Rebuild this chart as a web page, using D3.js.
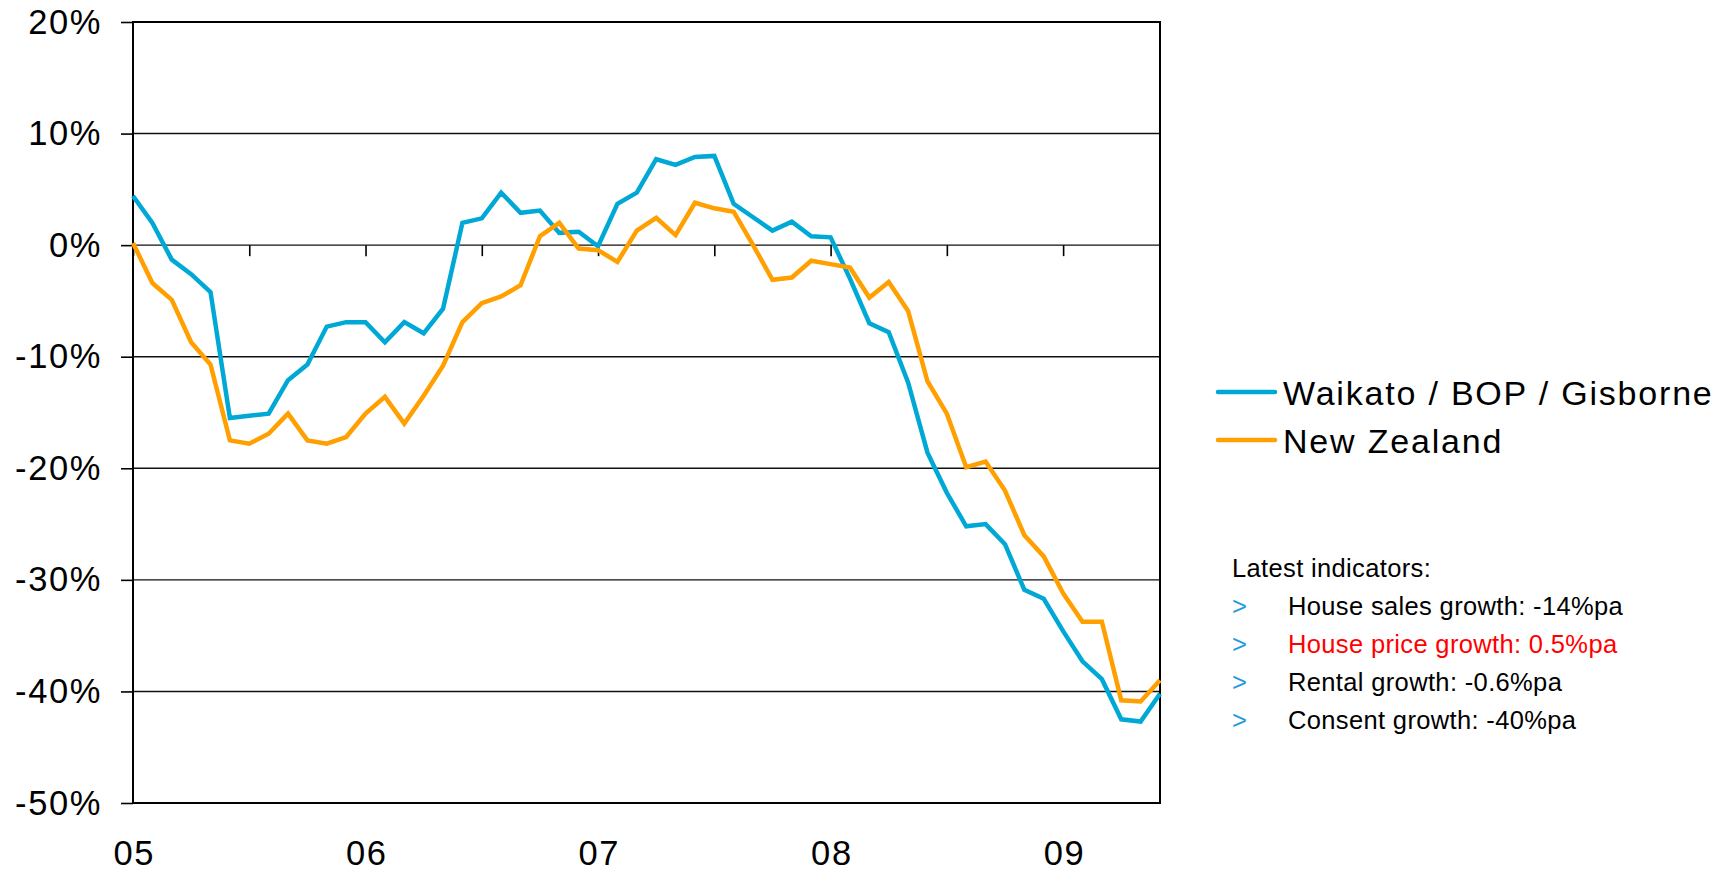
<!DOCTYPE html>
<html>
<head>
<meta charset="utf-8">
<script src="https://cdn.jsdelivr.net/npm/d3@7"></script>
<style>
  html, body { margin: 0; padding: 0; background: #fff; }
  svg { display: block; font-family: "Liberation Sans", Arial, sans-serif; }
</style>
</head>
<body>
<svg id="chart" width="1726" height="871"></svg>
<script>
// ---------- DATA ----------
// Monthly, Jan 2005 .. Jun 2009 (annual % change)
const months = d3.range(54).map(i => {
  const y = 2005 + Math.floor(i / 12), m = i % 12;
  return `${y}-${String(m + 1).padStart(2, "0")}`;
});
const seriesNames = ["Waikato / BOP / Gisborne", "New Zealand"];
const waikato = [
  4.4, 2.0, -1.3, -2.6, -4.2, -15.5, -15.3, -15.1, -12.1, -10.7,
  -7.3, -6.9, -6.9, -8.7, -6.9, -7.9, -5.7, 2.0, 2.4, 4.7,
  2.9, 3.1, 1.1, 1.2, -0.1, 3.7, 4.7, 7.7, 7.2, 7.9,
  8.0, 3.7, 2.5, 1.3, 2.1, 0.8, 0.7, -3.0, -7.0, -7.8,
  -12.3, -18.6, -22.2, -25.2, -25.0, -26.8, -30.9, -31.7, -34.6, -37.3,
  -38.9, -42.5, -42.7, -40.2
];
const newZealand = [
  0.2, -3.4, -4.9, -8.7, -10.7, -17.5, -17.8, -16.9, -15.1, -17.5,
  -17.8, -17.2, -15.1, -13.6, -16.0, -13.5, -10.8, -6.9, -5.2, -4.6,
  -3.6, 0.8, 2.0, -0.3, -0.45, -1.5, 1.3, 2.45, 0.9, 3.8,
  3.3, 3.0, 0.0, -3.1, -2.9, -1.4, -1.7, -2.0, -4.7, -3.3,
  -5.9, -12.2, -15.1, -19.9, -19.4, -22.0, -26.0, -27.9, -31.2, -33.75,
  -33.75, -40.8, -40.9, -39.0
];
const yTicks = [20, 10, 0, -10, -20, -30, -40, -50];
const xLabelMonths = ["2005-01", "2006-01", "2007-01", "2008-01", "2009-01"];
const xLabels = ["05", "06", "07", "08", "09"];
const xTickMonths = months.filter((d, i) => i % 6 === 0);
const indicatorTitle = "Latest indicators:";
const indicators = [
  "House sales growth: -14%pa",
  "House price growth: 0.5%pa",
  "Rental growth: -0.6%pa",
  "Consent growth: -40%pa"
];
const highlightedIndicator = 1;

// ---------- LAYOUT ----------
const svg = d3.select("#chart");
const X0 = 133, X1 = 1160, Y0 = 22, Y1 = 803;
const colors = ["#00A8D6", "#FF9F00"];
const FONT = "Liberation Sans, Arial, sans-serif";

const x = d3.scalePoint().domain(months).range([X0, X1]);
const y = d3.scaleLinear().domain([-50, 20]).range([Y1, Y0]);

svg.append("rect").attr("width", 1726).attr("height", 871).attr("fill", "#fff");

// gridlines
svg.append("g").selectAll("line")
  .data(yTicks.filter(v => v !== 20 && v !== -50))
  .join("line")
  .attr("x1", X0).attr("x2", X1)
  .attr("y1", d => y(d)).attr("y2", d => y(d))
  .attr("stroke", "#111").attr("stroke-width", 1.4);

// frame
svg.append("rect")
  .attr("x", X0).attr("y", Y0)
  .attr("width", X1 - X0).attr("height", Y1 - Y0)
  .attr("fill", "none").attr("stroke", "#000").attr("stroke-width", 2);

// y axis
const yAxis = svg.append("g")
  .attr("transform", `translate(${X0},0)`)
  .call(d3.axisLeft(y).tickValues(yTicks).tickSize(12).tickPadding(19)
    .tickFormat(d => d + "%"));
yAxis.select(".domain").remove();
yAxis.selectAll(".tick line").attr("stroke", "#000").attr("stroke-width", 1.6);
yAxis.selectAll("text").attr("font-size", 34.5).attr("fill", "#000")
  .attr("letter-spacing", 1.6).attr("font-family", FONT);

// x tick marks on zero line
const xTicksG = svg.append("g")
  .attr("transform", `translate(0,${y(0)})`)
  .call(d3.axisBottom(x).tickValues(xTickMonths).tickSize(11).tickFormat(""));
xTicksG.select(".domain").remove();
xTicksG.selectAll(".tick line").attr("stroke", "#000").attr("stroke-width", 1.6);

// x labels at bottom
const xLab = svg.append("g")
  .attr("transform", `translate(0,${Y1})`)
  .call(d3.axisBottom(x).tickValues(xLabelMonths).tickSize(0).tickPadding(37.5)
    .tickFormat(d => xLabels[xLabelMonths.indexOf(d)]));
xLab.select(".domain").remove();
xLab.selectAll("text").attr("font-size", 34.5).attr("fill", "#000")
  .attr("letter-spacing", 1.6).attr("dx", 0.8).attr("font-family", FONT);

// lines
const line = d3.line().x((d, i) => x(months[i])).y(d => y(d));
[waikato, newZealand].forEach((s, k) => {
  svg.append("path")
    .datum(s)
    .attr("d", line)
    .attr("fill", "none")
    .attr("stroke", colors[k])
    .attr("stroke-width", 4.5)
    .attr("stroke-linejoin", "miter");
});

// legend
const lg = svg.append("g");
seriesNames.forEach((name, k) => {
  const ly = 392 + k * 48;
  lg.append("line")
    .attr("x1", 1218).attr("x2", 1275).attr("y1", ly).attr("y2", ly)
    .attr("stroke", colors[k]).attr("stroke-width", 4.5).attr("stroke-linecap", "round");
  lg.append("text")
    .attr("x", 1283).attr("y", ly + 12.5)
    .attr("font-size", 34).attr("letter-spacing", 1.8).attr("fill", "#000")
    .text(name);
});

// indicators
const ig = svg.append("g").attr("font-size", 25.5).attr("letter-spacing", 0.35);
ig.append("text").attr("x", 1232).attr("y", 576.5).attr("fill", "#000").text(indicatorTitle);
indicators.forEach((t, i) => {
  const by = 615 + i * 38;
  ig.append("text").attr("x", 1232).attr("y", by).attr("fill", "#1E9BE0").text(">");
  ig.append("text").attr("x", 1288).attr("y", by)
    .attr("fill", i === highlightedIndicator ? "#FF0000" : "#000").text(t);
});
</script>
</body>
</html>
